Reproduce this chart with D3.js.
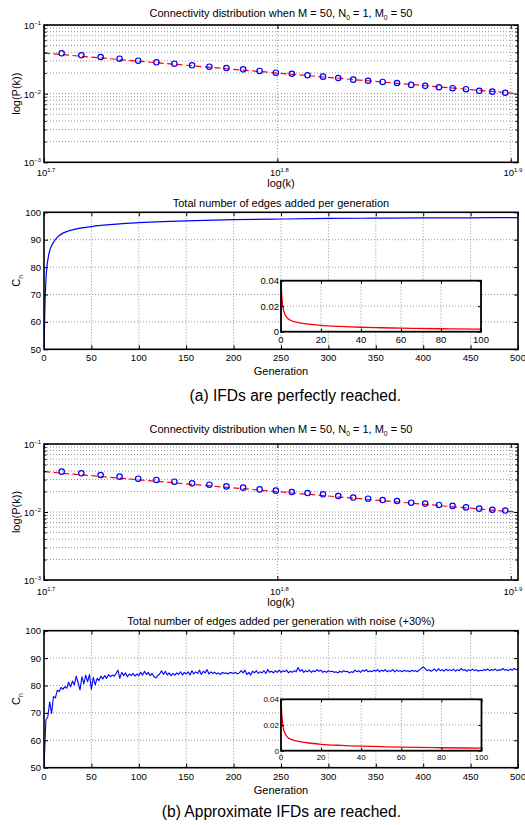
<!DOCTYPE html>
<html><head><meta charset="utf-8">
<script src="https://cdn.jsdelivr.net/npm/d3@7"></script>
<style>
body{margin:0;background:#fff;}
svg{display:block;font-family:"Liberation Sans",Arial,Helvetica,sans-serif;}
</style></head><body>
<svg id="c" width="525" height="825"></svg>
<script>
// ---------------- DATA ----------------
const degreeK = [51,52,53,54,55,56,57,58,59,60,61,62,63,64,65,66,67,68,69,70,71,72,73,74,75,76,77,78,79];
const pkPerfect = [0.0387,0.0362,0.0342,0.0323,0.0302,0.0286,0.0273,0.0259,0.0247,0.0236,0.0226,0.0214,0.0202,0.0195,0.0185,0.0177,0.0169,0.0160,0.0154,0.0148,0.0143,0.0134,0.0130,0.0124,0.0120,0.0116,0.0110,0.0107,0.0103];
const pkNoisy = [0.0392,0.0371,0.0350,0.0331,0.0309,0.0296,0.0279,0.0264,0.0252,0.0238,0.0228,0.0215,0.0206,0.0197,0.0190,0.0182,0.0172,0.0163,0.0157,0.0150,0.0145,0.0137,0.0133,0.0127,0.0123,0.0117,0.0112,0.0108,0.0105];
const fitK = [50.12, 80];
const fitPerfect = [0.0390, 0.0100];
const fitNoisy = [0.0392, 0.0099];

const genPerfect = [0,1,2,3,4,5,6,8,10,12,15,20,25,30,40,50,60,80,100,125,150,200,250,300,350,400,450,500];
const cnPerfect = [50,66,75,80,82.5,84.5,86,87.8,89,90,91.2,92.4,93.1,93.6,94.3,94.8,95.2,95.8,96.2,96.6,96.9,97.3,97.55,97.75,97.85,97.95,98.0,98.05];

const noisyStep = 2; // one value every 2 generations, from generation 0 to 500
const cnNoisy = [
50,67.5,68.5,74,69.8,76,75.5,78.2,77.8,79.3,78.6,79.6,79.0,81.2,79.5,81.6,80.2,83.4,81.0,78.4,
83.2,80.6,83.8,81.4,84.0,78.6,83.0,80.2,82.6,81.8,83.4,82.4,83.6,82.6,84.0,83.2,83.8,83.4,84.4,85.6,
82.6,84.8,83.6,84.6,83.2,84.2,83.6,84.4,83.4,84.2,83.6,84.8,83.8,85.2,84.0,84.8,83.6,84.4,83.2,82.8,
83.6,84.2,85.4,84.0,85.2,83.8,84.6,83.6,84.4,83.8,84.6,84.0,85.0,83.8,84.8,84.2,85.0,83.8,85.4,84.2,
85.0,84.4,85.6,84.0,85.2,84.6,85.8,84.2,85.0,84.4,84.8,84.2,84.6,84.0,84.8,84.4,84.6,84.2,84.8,84.6,
84.4,84.8,84.2,84.6,85.4,84.6,85.6,84.0,84.8,83.8,85.2,84.6,85.4,84.4,85.0,84.6,85.4,84.4,85.8,84.8,
85.2,84.6,85.4,84.8,85.6,84.8,85.4,85.0,85.6,84.6,85.2,84.8,85.4,85.0,86.6,85.2,85.8,84.8,85.4,85.0,
85.6,84.8,85.4,85.0,85.8,85.2,85.6,84.8,85.2,84.8,85.4,85.0,85.2,84.8,85.0,84.6,85.2,84.8,85.4,85.0,
85.2,84.6,85.0,84.8,85.6,85.0,85.4,84.8,85.6,85.2,85.8,85.0,85.4,85.0,85.6,85.2,85.8,85.0,85.6,85.2,
85.8,85.0,85.4,85.2,85.8,85.0,85.6,85.2,85.4,85.0,85.6,85.2,85.4,85.0,85.6,85.2,85.4,85.0,85.8,86.2,
86.8,86.2,85.4,85.8,85.2,85.6,86.0,85.2,86.2,85.4,85.8,85.2,86.0,85.4,85.8,85.4,86.0,85.2,85.8,85.4,
86.2,85.6,85.8,85.2,85.8,85.4,86.0,85.4,85.8,85.2,85.6,85.4,85.8,85.6,86.0,85.4,85.8,85.6,86.0,85.4,
85.8,85.6,86.2,85.6,85.8,85.4,86.0,85.6,86.2,85.8,86.0];

const insetGen = [0,0.5,1,2,3,5,7,10,15,20,30,40,50,60,80,100];
const insetVal = [0.04,0.026,0.019,0.0135,0.011,0.0088,0.0078,0.0068,0.0058,0.005,0.0041,0.0035,0.0031,0.0028,0.0023,0.0020];

const kExpTicks = [1.7, 1.8, 1.9];
const pExpTicks = [-3, -2, -1];
const logMinor = [2,3,4,5,6,7,8,9];
const genTicks = [0,50,100,150,200,250,300,350,400,450,500];
const cnTicks = [50,60,70,80,90,100];
const insetXTicks = [0,20,40,60,80,100];
const insetYTicks = [0,0.02,0.04];
const insetYLabels = ["0","0.02","0.04"];

const titleLog = [["Connectivity distribution when M = 50, N"],["0","sub"],[" = 1, M"],["0","sub"],[" = 50"]];
const titleLinA = "Total number of edges added per generation";
const titleLinB = "Total number of edges added per generation with noise (+30%)";
const captionA = "(a) IFDs are perfectly reached.";
const captionB = "(b) Approximate IFDs are reached.";

// ---------------- DRAW ----------------
const svg = d3.select("#c");
const L = 44, R = 518;
const GRID = "#8a8a8a";

function rich(text, parts, fs) {
  let cur = 0;
  parts.forEach(p => {
    const t = p[0], k = p[1];
    const target = k === "sub" ? fs * 0.3 : k === "sup" ? -fs * 0.42 : 0;
    text.append("tspan").attr("dy", target - cur).attr("font-size", k ? fs * 0.62 : fs).text(t);
    cur = target;
  });
}

function frame(g, x0, y0, x1, y1, w) {
  g.append("rect").attr("x", x0).attr("y", y0).attr("width", x1 - x0).attr("height", y1 - y0)
    .attr("fill", "none").attr("stroke", "#000").attr("stroke-width", w);
}

function inwardTicks(g, x, y, xTicks, yTicks, size, x0, x1, y0, y1) {
  const fix = s => { s.select(".domain").remove(); s.selectAll("line").attr("stroke", "#000"); s.selectAll("text").remove(); };
  g.append("g").attr("transform", `translate(0,${y1})`).call(d3.axisBottom(x).tickValues(xTicks).tickSize(-size)).call(fix);
  g.append("g").attr("transform", `translate(0,${y0})`).call(d3.axisTop(x).tickValues(xTicks).tickSize(-size)).call(fix);
  g.append("g").attr("transform", `translate(${x0},0)`).call(d3.axisLeft(y).tickValues(yTicks).tickSize(-size)).call(fix);
  g.append("g").attr("transform", `translate(${x1},0)`).call(d3.axisRight(y).tickValues(yTicks).tickSize(-size)).call(fix);
}

function hGrid(g, y, vals, x0, x1) {
  g.selectAll(null).data(vals).enter().append("line")
    .attr("x1", x0).attr("x2", x1).attr("y1", d => y(d)).attr("y2", d => y(d))
    .attr("stroke", GRID).attr("stroke-width", 0.9).attr("stroke-dasharray", "1,2");
}
function vGrid(g, x, vals, y0, y1) {
  g.selectAll(null).data(vals).enter().append("line")
    .attr("y1", y0).attr("y2", y1).attr("x1", d => x(d)).attr("x2", d => x(d))
    .attr("stroke", GRID).attr("stroke-width", 0.9).attr("stroke-dasharray", "1,2");
}

function logPanel(top, bottom, titleY, pk, fitP, tickLabY, xLabY) {
  const g = svg.append("g");
  const x = d3.scaleLog().domain([Math.pow(10, kExpTicks[0]), 80]).range([L, R]);
  const y = d3.scaleLog().domain([Math.pow(10, pExpTicks[0]), Math.pow(10, pExpTicks[2])]).range([bottom, top]);
  const minorVals = [];
  pExpTicks.slice(0, 2).forEach(e => logMinor.forEach(m => minorVals.push(m * Math.pow(10, e))));
  const majorVals = pExpTicks.map(e => Math.pow(10, e));
  hGrid(g, y, minorVals.concat([majorVals[1]]), L, R);
  vGrid(g, x, kExpTicks.slice(1).map(e => Math.pow(10, e)), top, bottom);

  const cid = "clip" + top;
  svg.append("clipPath").attr("id", cid).append("rect").attr("x", L).attr("y", top).attr("width", R - L).attr("height", bottom - top);
  const line = d3.line().x(d => x(d[0])).y(d => y(d[1]));
  g.append("path").datum(fitK.map((k, i) => [k, fitP[i]])).attr("d", line)
    .attr("clip-path", `url(#${cid})`)
    .attr("fill", "none").attr("stroke", "#ff0000").attr("stroke-width", 1.2).attr("stroke-dasharray", "6,3.5");
  g.selectAll(null).data(degreeK.map((k, i) => [k, pk[i]])).enter().append("circle")
    .attr("cx", d => x(d[0])).attr("cy", d => y(d[1])).attr("r", 2.7)
    .attr("fill", "none").attr("stroke", "#0000ff").attr("stroke-width", 1.2);

  const kVals = kExpTicks.map(e => Math.pow(10, e));
  inwardTicks(g, x, y, kVals, majorVals, 4, L, R, top, bottom);
  // minor y ticks
  g.append("g").attr("transform", `translate(${L},0)`).call(d3.axisLeft(y).tickValues(minorVals).tickSize(-2.5))
    .call(s => { s.select(".domain").remove(); s.selectAll("text").remove(); });
  g.append("g").attr("transform", `translate(${R},0)`).call(d3.axisRight(y).tickValues(minorVals).tickSize(-2.5))
    .call(s => { s.select(".domain").remove(); s.selectAll("text").remove(); });
  frame(g, L, top, R, bottom, 1.6);

  // labels
  pExpTicks.forEach(e => {
    const t = g.append("text").attr("x", L - 3).attr("y", y(Math.pow(10, e)) + 4).attr("text-anchor", "end");
    rich(t, [["10"], [String(e).replace("-", "\u2212"), "sup"]], 9.5);
  });
  kExpTicks.forEach(e => {
    const t = g.append("text").attr("x", x(Math.pow(10, e)) + 2).attr("y", tickLabY).attr("text-anchor", "middle");
    rich(t, [["10"], [String(e), "sup"]], 9.5);
  });
  g.append("text").attr("x", (L + R) / 2).attr("y", xLabY).attr("text-anchor", "middle").attr("font-size", 11).text("log(k)");
  g.append("text").attr("transform", `translate(19.5,${(top + bottom) / 2}) rotate(-90)`).attr("text-anchor", "middle")
    .attr("font-size", 11).text("log(P(k))");
  const tt = g.append("text").attr("x", (L + R) / 2).attr("y", titleY).attr("text-anchor", "middle");
  rich(tt, titleLog, 11);
}

function linPanel(top, bottom, title, titleY, series, curve, lw, inset, tickLabY, xLabY) {
  const g = svg.append("g");
  const x = d3.scaleLinear().domain([genTicks[0], genTicks[genTicks.length - 1]]).range([L, R]);
  const y = d3.scaleLinear().domain([cnTicks[0], cnTicks[cnTicks.length - 1]]).range([bottom, top]);
  hGrid(g, y, cnTicks.slice(1, -1), L, R);
  vGrid(g, x, genTicks.slice(1, -1), top, bottom);
  const cid = "clip" + top;
  svg.append("clipPath").attr("id", cid).append("rect").attr("x", L).attr("y", top - 1).attr("width", R - L).attr("height", bottom - top + 1);
  g.append("path").datum(series).attr("d", d3.line().curve(curve).x(d => x(d[0])).y(d => y(d[1])))
    .attr("clip-path", `url(#${cid})`)
    .attr("fill", "none").attr("stroke", "#0000ff").attr("stroke-width", lw).attr("stroke-linejoin", "round");
  inwardTicks(g, x, y, genTicks, cnTicks, 4, L, R, top, bottom);
  frame(g, L, top, R, bottom, 1.6);

  g.selectAll(null).data(genTicks).enter().append("text")
    .attr("x", d => x(d)).attr("y", tickLabY).attr("text-anchor", "middle").attr("font-size", 9.5).text(d => d);
  g.selectAll(null).data(cnTicks).enter().append("text")
    .attr("x", L - 3).attr("y", d => y(d) + 3.5).attr("text-anchor", "end").attr("font-size", 9.5).text(d => d);
  g.append("text").attr("x", (L + R) / 2).attr("y", xLabY).attr("text-anchor", "middle").attr("font-size", 11).text("Generation");
  const yl = g.append("text").attr("transform", `translate(20,${(top + bottom) / 2}) rotate(-90)`).attr("text-anchor", "middle");
  rich(yl, [["C"], ["n", "sub"]], 11);
  g.append("text").attr("x", (L + R) / 2).attr("y", titleY).attr("text-anchor", "middle").attr("font-size", 11).text(title);

  // inset
  const ig = svg.append("g");
  const ix = d3.scaleLinear().domain([insetXTicks[0], insetXTicks[insetXTicks.length - 1]]).range([inset.x0, inset.x1]);
  const iy = d3.scaleLinear().domain([insetYTicks[0], insetYTicks[insetYTicks.length - 1]]).range([inset.y1, inset.y0]);
  ig.append("rect").attr("x", inset.x0).attr("y", inset.y0).attr("width", inset.x1 - inset.x0).attr("height", inset.y1 - inset.y0).attr("fill", "#fff");
  hGrid(ig, iy, insetYTicks.slice(1, -1), inset.x0, inset.x1);
  vGrid(ig, ix, insetXTicks.slice(1, -1), inset.y0, inset.y1);
  ig.append("path").datum(insetGen.map((n, i) => [n, insetVal[i]]))
    .attr("d", d3.line().curve(d3.curveMonotoneX).x(d => ix(d[0])).y(d => iy(d[1])))
    .attr("fill", "none").attr("stroke", "#ff0000").attr("stroke-width", 1.3);
  inwardTicks(ig, ix, iy, insetXTicks, insetYTicks, 3, inset.x0, inset.x1, inset.y0, inset.y1);
  frame(ig, inset.x0, inset.y0, inset.x1, inset.y1, 1.8);
  ig.selectAll(null).data(insetXTicks).enter().append("text")
    .attr("x", d => ix(d)).attr("y", inset.y1 + inset.fs + 1.5).attr("text-anchor", "middle").attr("font-size", inset.fs).text(d => d);
  ig.selectAll(null).data(insetYTicks).enter().append("text")
    .attr("x", inset.x0 - 2).attr("y", d => iy(d) + inset.fs * 0.36).attr("text-anchor", "end").attr("font-size", inset.fs)
    .text((d, i) => insetYLabels[i]);
}

logPanel(25, 162.3, 16.5, pkPerfect, fitPerfect, 176, 187);
linPanel(212.3, 349.3, titleLinA, 207, genPerfect.map((n, i) => [n, cnPerfect[i]]), d3.curveMonotoneX, 1.2,
  {x0: 281, x1: 481, y0: 280.7, y1: 331.7, fs: 9.5}, 361, 375);
svg.append("text").attr("x", 401).attr("y", 401).attr("text-anchor", "end").attr("font-size", 15.6).text(captionA);

logPanel(444, 580, 433, pkNoisy, fitNoisy, 595, 606);
linPanel(630.7, 767.7, titleLinB, 624.5, cnNoisy.map((v, i) => [i * noisyStep, v]), d3.curveLinear, 1.1,
  {x0: 281, x1: 481.5, y0: 699.3, y1: 750.7, fs: 8}, 780, 794);
svg.append("text").attr("x", 401).attr("y", 817).attr("text-anchor", "end").attr("font-size", 15.6).text(captionB);
</script>
</body></html>
